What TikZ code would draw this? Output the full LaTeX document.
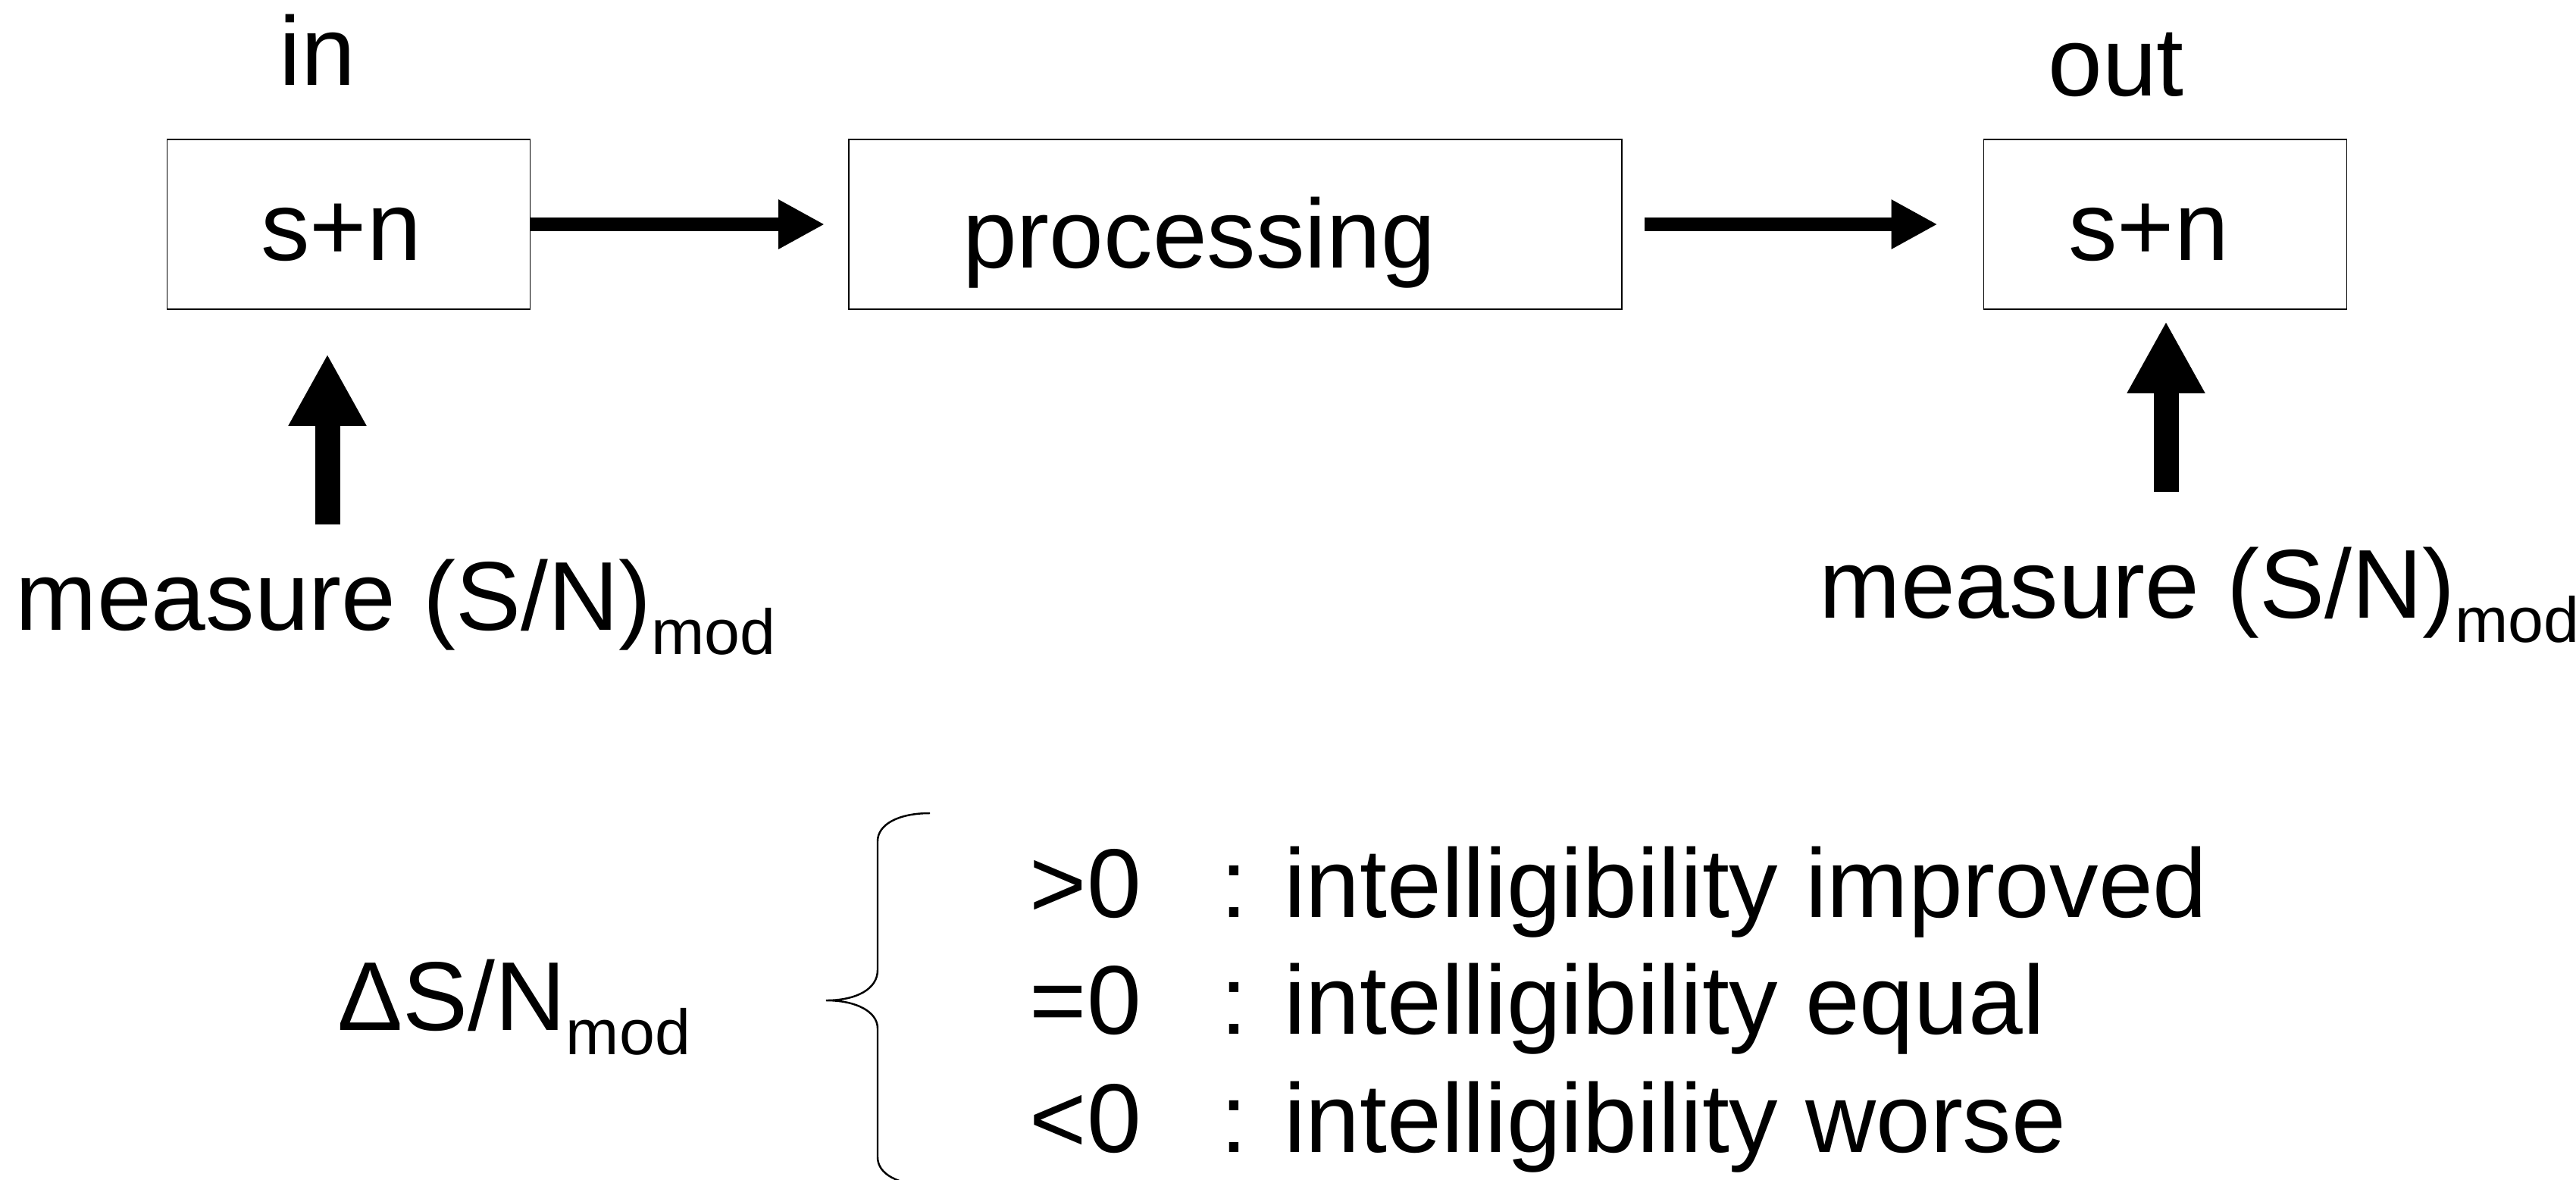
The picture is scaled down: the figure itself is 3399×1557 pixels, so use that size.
\documentclass[tikz,border=0pt]{standalone}
\usepackage{fontspec}
\setmainfont{Liberation Sans}
\usepackage{tikz}
\usetikzlibrary{arrows.meta, positioning, calc}
\tikzstyle{box} = [rectangle, draw=black, line width=0.5pt, inner sep=0pt, minimum width=47.9mm, minimum height=22.4mm, text height=9.4mm, text depth=0mm]
\tikzstyle{lbl} = [inner sep=0pt]
\tikzstyle{flow} = [line width=1.8mm, -{Triangle[length=6.1mm,width=6.1mm]}]
\tikzstyle{meas} = [line width=3.3mm, -{Triangle[length=9.5mm,width=9.6mm]}]
\newcommand{\lowmod}[1]{\raisebox{-3.2mm}{\fontsize{24}{28}\selectfont #1}}

\begin{document}
\begin{tikzpicture}[x=0.1mm, y=-0.1mm, font=\fontsize{36.7}{44}\selectfont]
        \useasboundingbox (0,0) rectangle (3399,1557);

        % Chain
        \node (inbox) [box] at (460,296) {s+n\kern2mm};
        \node (procbox) [box, minimum width=102mm, text height=11.4mm] at (1630,296) {processing\kern9.6mm};
        \node (outbox) [box] at (2857,296) {s+n\kern4.4mm};

        % Labels
        \node (inlbl) [lbl, anchor=base] at (419,112) {in};
        \node (outlbl) [lbl, anchor=base] at (2792,126) {out};
        \node (inmeas) [lbl, anchor=base west] at (20,831) {measure (S/N)\lowmod{mod}};
        \node (outmeas) [lbl, anchor=base west] at (2400,815) {measure (S/N)\lowmod{mod}};
        \coordinate (inbase) at (432,692);
        \coordinate (outbase) at (2858,649);

        % Arrows
        \draw [flow, shorten >=3.1mm] (inbox) -- (procbox);
        \draw [flow, shorten <=2.9mm, shorten >=6mm] (procbox) -- (outbox);
        \draw [meas, shorten >=5.8mm] (inbase) -- (inbase |- inbox.south);
        \draw [meas, shorten >=1.5mm] (outbase) -- (outbase |- outbox.south);

        % Result
        \node (delta) [lbl, anchor=base west] at (445,1359) {ΔS/N\lowmod{mod}};
        \draw [line width=0.7pt] (1227,1073) .. controls (1185,1073) and (1158,1088) .. (1158,1110)
          -- (1158,1280) .. controls (1158,1305) and (1130,1320) .. (1090,1320)
          .. controls (1130,1320) and (1158,1335) .. (1158,1357)
          -- (1158,1527) .. controls (1158,1549) and (1185,1564) .. (1227,1564);
        \node (better) [lbl, anchor=base west] at (1358,1210) {\makebox[25.2mm][l]{>0}: intelligibility improved};
        \node (same) [lbl, anchor=base west] at (1358,1364) {\makebox[25.2mm][l]{=0}: intelligibility equal};
        \node (worse) [lbl, anchor=base west] at (1358,1520) {\makebox[25.2mm][l]{<0}: intelligibility worse};
      \end{tikzpicture}
\end{document}
